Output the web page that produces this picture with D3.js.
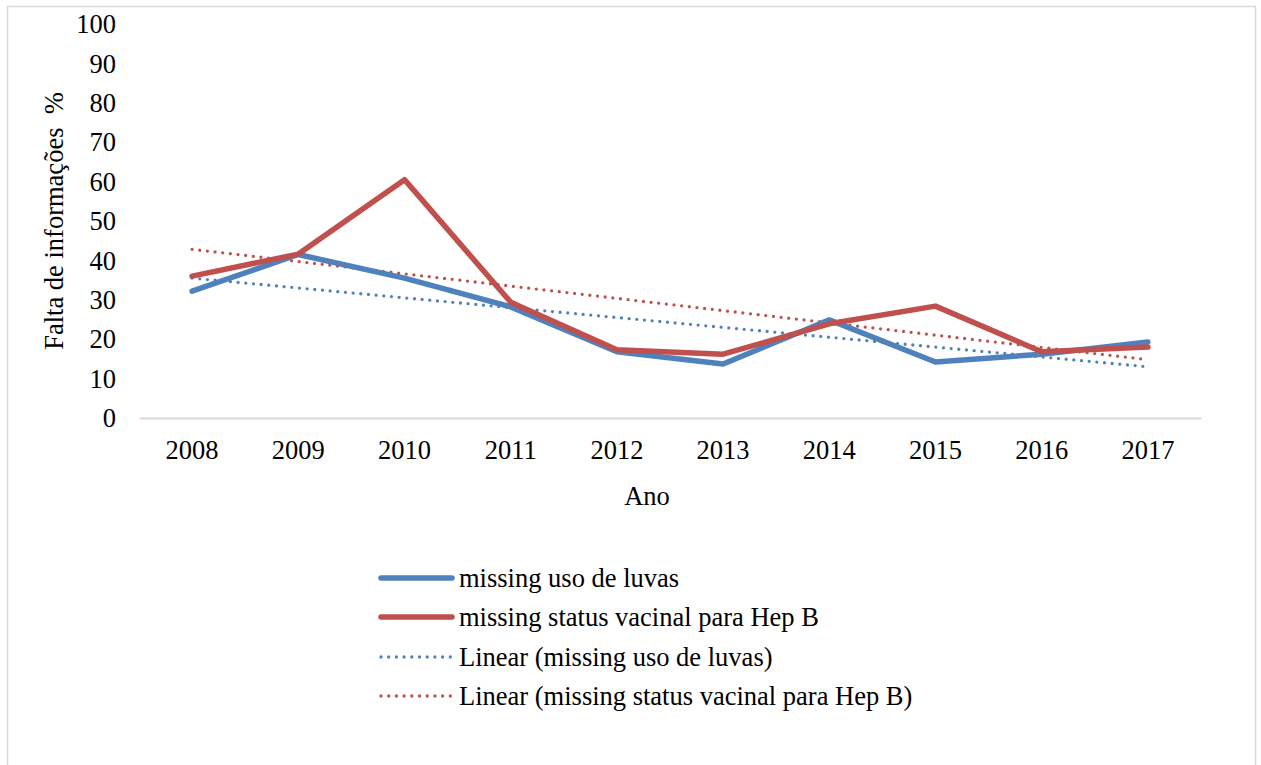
<!DOCTYPE html>
<html>
<head>
<meta charset="utf-8">
<script src="https://cdn.jsdelivr.net/npm/d3@7"></script>
<style>
  html, body { margin: 0; padding: 0; background: #fff; }
  svg text { font-family: "Liberation Serif", "Times New Roman", serif; fill: #000; }
</style>
</head>
<body>
<svg id="chart" width="1261" height="765"></svg>
<script>
// Anos e percentuais de informação ausente
const years = ["2008", "2009", "2010", "2011", "2012", "2013", "2014", "2015", "2016", "2017"];
const luvas = [32.2, 41.5, 35.5, 28.2, 16.8, 13.7, 24.9, 14.2, 16.2, 19.3];
const hepB  = [36.0, 41.6, 60.5, 29.4, 17.3, 16.2, 23.9, 28.4, 16.8, 18.0];
const yTicks = [0, 10, 20, 30, 40, 50, 60, 70, 80, 90, 100];

const seriesNames = ["missing uso de luvas", "missing status vacinal para Hep B"];
const colors = ["#4f81bd", "#c0504d"];

const FS = 26.5;

const svg = d3.select("#chart");

// moldura do gráfico
svg.append("rect")
  .attr("x", 7.5).attr("y", 6.5)
  .attr("width", 1248).attr("height", 770)
  .attr("fill", "none").attr("stroke", "#d9d9d9").attr("stroke-width", 1.5);

const plot = { left: 139, right: 1201, top: 24, bottom: 418 };

const x = d3.scaleBand().domain(years).range([plot.left, plot.right]);
const y = d3.scaleLinear().domain([0, 100]).range([plot.bottom, plot.top]);
const cx = d => x(d) + x.bandwidth() / 2;

// eixo Y (apenas rótulos)
const yAxis = d3.axisLeft(y).tickValues(yTicks).tickSize(0).tickPadding(0);
const gy = svg.append("g").attr("transform", `translate(116,0)`).call(yAxis);
gy.select(".domain").remove();
gy.selectAll("text").attr("font-size", FS).attr("dy", "0.33em")
  .style("font-family", '"Liberation Serif", serif');

// eixo X
const xAxis = d3.axisBottom(x).tickSize(0).tickPadding(0);
const gx = svg.append("g").attr("transform", `translate(0,${plot.bottom})`).call(xAxis);
gx.select(".domain").attr("stroke", "#d9d9d9").attr("stroke-width", 2);
gx.selectAll("text").attr("font-size", FS).attr("dy", null).attr("y", 41)
  .style("font-family", '"Liberation Serif", serif');

// títulos dos eixos
svg.append("text")
  .attr("x", (plot.left + plot.right) / 2 - 23).attr("y", 505)
  .attr("text-anchor", "middle").attr("font-size", FS)
  .text("Ano");

svg.append("text")
  .attr("transform", `translate(63,${(plot.top + plot.bottom) / 2}) rotate(-90)`)
  .attr("text-anchor", "middle").attr("font-size", FS)
  .attr("xml:space", "preserve").style("white-space", "pre")
  .text("Falta de informações  %");

// tendência linear (mínimos quadrados)
function linearFit(vals) {
  const n = vals.length;
  const xs = d3.range(n);
  const mx = d3.mean(xs), my = d3.mean(vals);
  const sxy = d3.sum(xs, (xi, i) => (xi - mx) * (vals[i] - my));
  const sxx = d3.sum(xs, xi => (xi - mx) * (xi - mx));
  const b = sxy / sxx, a = my - b * mx;
  return xs.map(xi => a + b * xi);
}

const line = d3.line().x((d, i) => cx(years[i])).y(d => y(d));

const allSeries = [luvas, hepB];

// linhas de tendência pontilhadas
allSeries.forEach((vals, k) => {
  const fit = linearFit(vals);
  svg.append("path")
    .attr("d", line(fit))
    .attr("fill", "none").attr("stroke", colors[k])
    .attr("stroke-width", 3.3).attr("stroke-linecap", "round")
    .attr("stroke-dasharray", "0 7.7");
});

// séries principais
allSeries.forEach((vals, k) => {
  svg.append("path")
    .attr("d", line(vals))
    .attr("fill", "none").attr("stroke", colors[k])
    .attr("stroke-width", 5.5).attr("stroke-linejoin", "round").attr("stroke-linecap", "round");
});

// legenda
const legendItems = [
  { label: seriesNames[0], color: colors[0], dotted: false },
  { label: seriesNames[1], color: colors[1], dotted: false },
  { label: "Linear (" + seriesNames[0] + ")", color: colors[0], dotted: true },
  { label: "Linear (" + seriesNames[1] + ")", color: colors[1], dotted: true }
];
const legendY = [578, 617, 657, 696];
const lg = svg.append("g");
legendItems.forEach((it, i) => {
  const row = lg.append("g").attr("transform", `translate(0,${legendY[i]})`);
  row.append("line")
    .attr("x1", 381).attr("x2", 452)
    .attr("y1", 0).attr("y2", 0)
    .attr("stroke", it.color)
    .attr("stroke-width", it.dotted ? 3.3 : 5.5)
    .attr("stroke-linecap", "round")
    .attr("stroke-dasharray", it.dotted ? "0 7.7" : null);
  row.append("text")
    .attr("x", 459).attr("y", 9)
    .attr("font-size", FS)
    .text(it.label);
});
</script>
</body>
</html>
